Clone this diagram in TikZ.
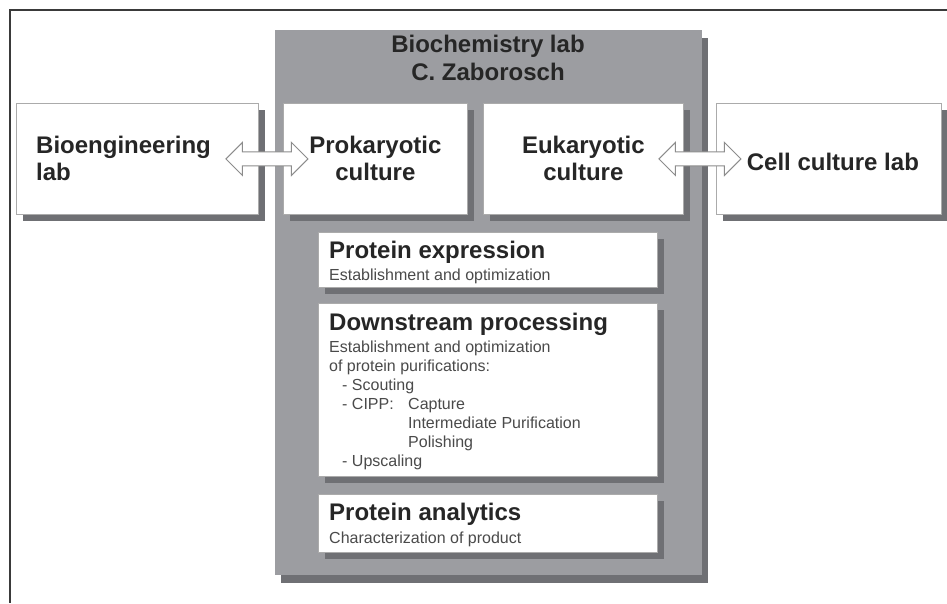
\documentclass[tikz,border=0pt]{standalone}
\usepackage{fontspec}
\setmainfont{Liberation Sans}
\usetikzlibrary{shadows,shapes.arrows,calc}
\definecolor{labgray}{HTML}{9C9DA1}
\definecolor{shadowgray}{HTML}{6F7074}
\definecolor{edgegray}{HTML}{ABABAB}
\definecolor{ink}{HTML}{262626}
\definecolor{smallink}{HTML}{4A4A4A}
\definecolor{framecol}{HTML}{3A3A3A}
\definecolor{arrowedge}{HTML}{8C8C8C}
\tikzset{
  labbox/.style={fill=labgray, draw=none, anchor=north west, inner sep=0pt,
    drop shadow={shadow xshift=6pt, shadow yshift=-8pt, fill=shadowgray, opacity=1}},
  whitebox/.style={draw=edgegray, line width=0.8pt, fill=white, anchor=north west, inner sep=0pt,
    drop shadow={shadow xshift=7pt, shadow yshift=-7pt, fill=shadowgray, opacity=1}},
  bigtext/.style={font=\fontsize{24}{27}\selectfont\bfseries, text=ink, inner sep=0pt},
  hd/.style={font=\fontsize{24}{27}\selectfont\bfseries, text=ink, inner sep=0pt, anchor=base west},
  sm/.style={font=\fontsize{16}{19}\selectfont, text=smallink, inner sep=0pt, anchor=base west},
  harrow/.style={double arrow, draw=arrowedge, fill=white, line width=1pt,
    minimum height=82pt, inner sep=6.5pt, double arrow head extend=9.5pt},
  frameline/.style={draw=framecol, line width=1.2pt}
}
\begin{document}
\begin{tikzpicture}[x=1pt,y=-1pt]
\useasboundingbox (0,0) rectangle (947,603);
% frame
\coordinate (fc) at (10,10);
\coordinate (fr) at (947,10);
\coordinate (fb) at (10,603);
\draw[frameline] (fr) -- (fc) -- (fb);
% main lab box
\node[labbox, minimum width=427pt, minimum height=545pt] (lab) at (275,30) {};
\node[bigtext, anchor=base] (ttl1) at (488,52) {Biochemistry lab};
\node[bigtext, anchor=base] (ttl2) at (488,80) {C. Zaborosch};
% top row boxes
\node[whitebox, minimum width=242pt, minimum height=111pt] (bio) at (16,103) {};
\node[whitebox, minimum width=184pt, minimum height=111pt] (pro) at (283,103) {};
\node[whitebox, minimum width=200pt, minimum height=111pt] (euk) at (483,103) {};
\node[whitebox, minimum width=225pt, minimum height=111pt] (cell) at (716,103) {};
\node[bigtext, align=left, anchor=west] (biot) at ($(bio.west)+(20,0)$) {Bioengineering\\lab};
\node[bigtext, align=center] (prot) at (pro.center) {Prokaryotic\\culture};
\node[bigtext, align=center] (eukt) at (euk.center) {Eukaryotic\\culture};
\node[bigtext] (cellt) at ($(cell.center)+(4,3)$) {Cell culture lab};
% inner boxes
\node[whitebox, minimum width=339pt, minimum height=55pt] (pe) at (318,232) {};
\node[whitebox, minimum width=339pt, minimum height=173pt] (dsp) at (318,303) {};
\node[whitebox, minimum width=339pt, minimum height=58pt] (pa) at (318,494) {};
\node[hd] (peh) at (329,258) {Protein expression};
\node[sm] (pes) at (329,280) {Establishment and optimization};
\node[hd] (dsph) at (329,330) {Downstream processing};
\node[sm] (d1) at (329,352) {Establishment and optimization};
\node[sm] (d2) at (329,371) {of protein purifications:};
\node[sm] (d3) at (342,390) {- Scouting};
\node[sm] (d4) at (342,409) {- CIPP:};
\node[sm] (d5) at (408,409) {Capture};
\node[sm] (d6) at (408,428) {Intermediate Purification};
\node[sm] (d7) at (408,447) {Polishing};
\node[sm] (d8) at (342,466) {- Upscaling};
\node[hd] (pah) at (329,520) {Protein analytics};
\node[sm] (pas) at (329,543) {Characterization of product};
% hollow double arrows
\node[harrow, xshift=-4pt] (arr1) at ($(bio.east)!0.5!(pro.west)$) {};
\node[harrow] (arr2) at ($(euk.east)!0.5!(cell.west)$) {};
\end{tikzpicture}
\end{document}
